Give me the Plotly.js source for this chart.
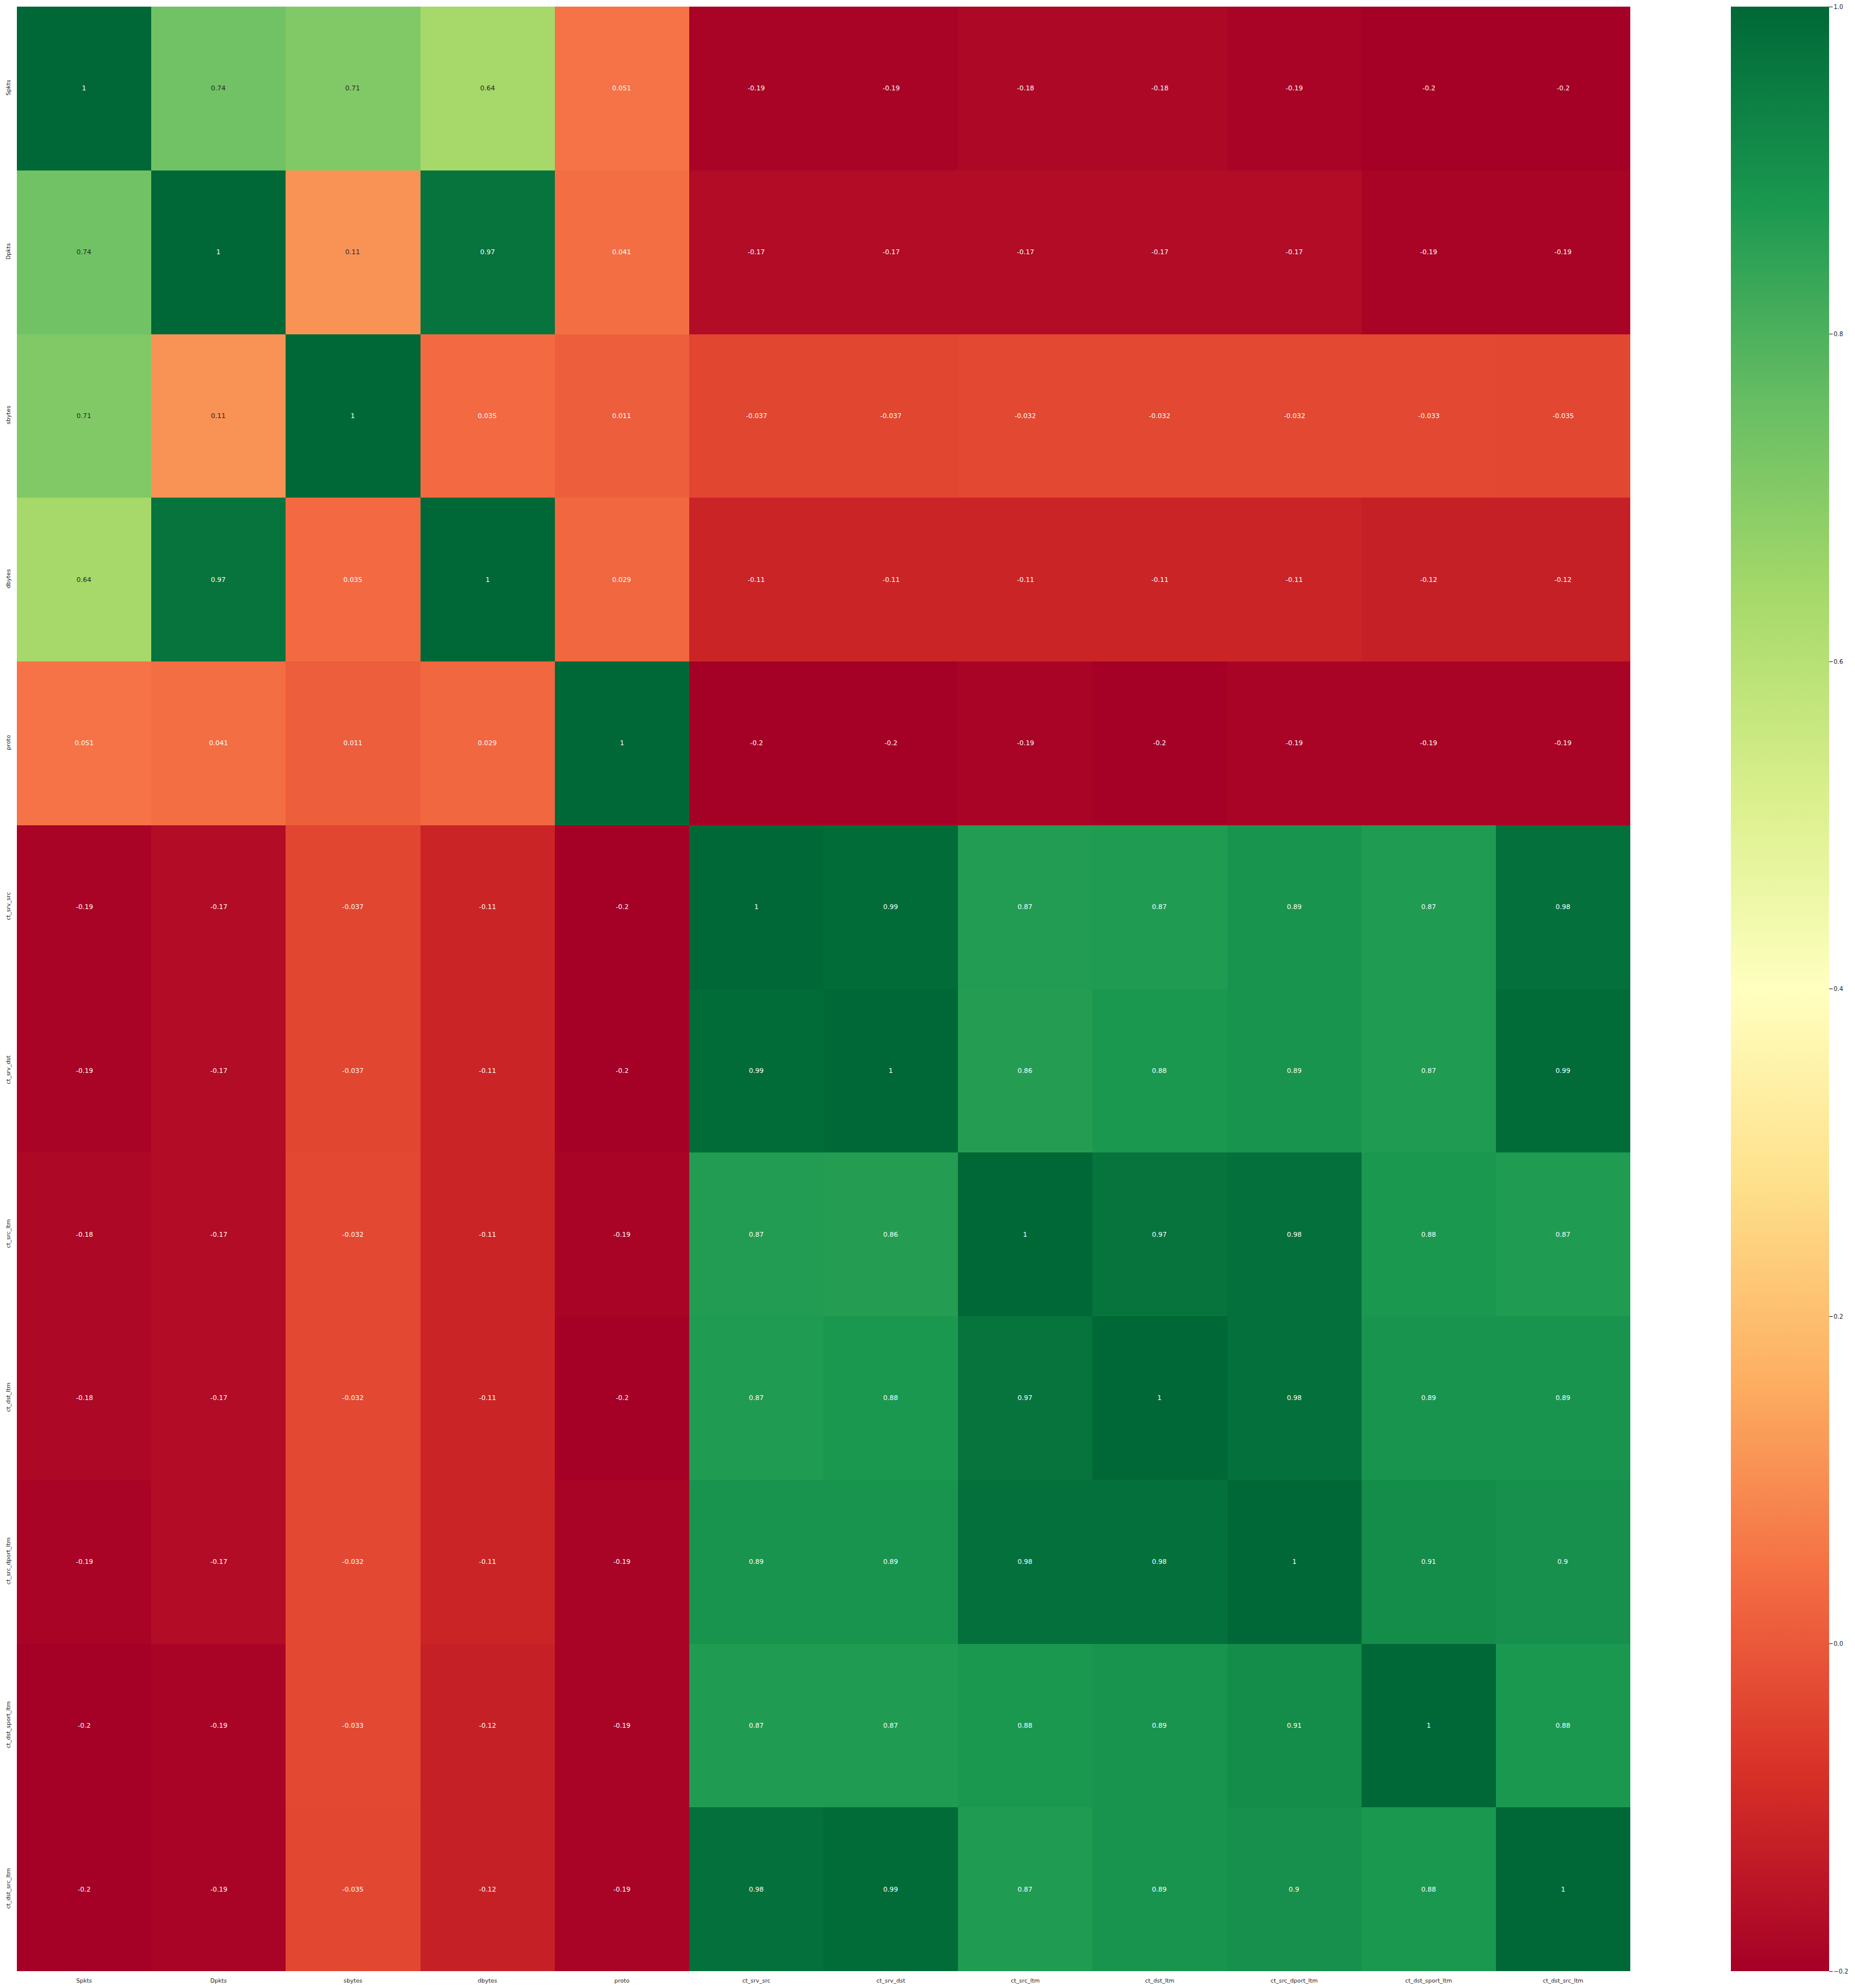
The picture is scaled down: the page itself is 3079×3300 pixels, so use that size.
<!DOCTYPE html>
<html>
<head>
<meta charset="utf-8">
<script src="https://cdn.plot.ly/plotly-3.0.1.min.js"></script>
<style>html,body{margin:0;padding:0;background:#fff;}#chart{width:3079px;height:3300px;}</style>
</head>
<body>
<div id="chart"></div>
<script>
const features = ["Spkts","Dpkts","sbytes","dbytes","proto","ct_srv_src","ct_srv_dst","ct_src_ltm","ct_dst_ltm","ct_src_dport_ltm","ct_dst_sport_ltm","ct_dst_src_ltm"];

const rowSpkts          = [1, 0.74, 0.71, 0.64, 0.051, -0.19, -0.19, -0.18, -0.18, -0.19, -0.2, -0.2];
const rowDpkts          = [0.74, 1, 0.11, 0.97, 0.041, -0.17, -0.17, -0.17, -0.17, -0.17, -0.19, -0.19];
const rowSbytes         = [0.71, 0.11, 1, 0.035, 0.011, -0.037, -0.037, -0.032, -0.032, -0.032, -0.033, -0.035];
const rowDbytes         = [0.64, 0.97, 0.035, 1, 0.029, -0.11, -0.11, -0.11, -0.11, -0.11, -0.12, -0.12];
const rowProto          = [0.051, 0.041, 0.011, 0.029, 1, -0.2, -0.2, -0.19, -0.2, -0.19, -0.19, -0.19];
const rowCtSrvSrc       = [-0.19, -0.17, -0.037, -0.11, -0.2, 1, 0.99, 0.868, 0.87, 0.89, 0.87, 0.98];
const rowCtSrvDst       = [-0.19, -0.17, -0.037, -0.11, -0.2, 0.99, 1, 0.8649, 0.88, 0.89, 0.87, 0.99];
const rowCtSrcLtm       = [-0.18, -0.17, -0.032, -0.11, -0.19, 0.868, 0.8649, 1, 0.97, 0.98, 0.88, 0.87];
const rowCtDstLtm       = [-0.18, -0.17, -0.032, -0.11, -0.2, 0.87, 0.88, 0.97, 1, 0.98, 0.89, 0.89];
const rowCtSrcDportLtm  = [-0.19, -0.17, -0.032, -0.11, -0.19, 0.89, 0.89, 0.98, 0.98, 1, 0.91, 0.9];
const rowCtDstSportLtm  = [-0.2, -0.19, -0.033, -0.12, -0.19, 0.87, 0.87, 0.88, 0.89, 0.91, 1, 0.88];
const rowCtDstSrcLtm    = [-0.2, -0.19, -0.035, -0.12, -0.19, 0.98, 0.99, 0.87, 0.89, 0.9, 0.88, 1];

const corr = [rowSpkts,rowDpkts,rowSbytes,rowDbytes,rowProto,rowCtSrvSrc,rowCtSrvDst,rowCtSrcLtm,rowCtDstLtm,rowCtSrcDportLtm,rowCtDstSportLtm,rowCtDstSrcLtm];

const cbTickVals = [-0.2, 0.0, 0.2, 0.4, 0.6, 0.8, 1.0];
const cbTickText = ["\u22120.2","0.0","0.2","0.4","0.6","0.8","1.0"];

const zmin = -0.2, zmax = 1.0;
const rdylgn = ["#a50026","#d73027","#f46d43","#fdae61","#fee08b","#ffffbf","#d9ef8b","#a6d96a","#66bd63","#1a9850","#006837"];
const colorscale = rdylgn.map((c,i)=>[i/(rdylgn.length-1), c]);

function hexToRgb(h){return [parseInt(h.slice(1,3),16),parseInt(h.slice(3,5),16),parseInt(h.slice(5,7),16)];}
function colorAt(v){
  let t = (v - zmin)/(zmax - zmin); t = Math.max(0, Math.min(1, t));
  const n = rdylgn.length - 1; const p = t*n; const i = Math.min(n-1, Math.floor(p)); const f = p - i;
  const a = hexToRgb(rdylgn[i]), b = hexToRgb(rdylgn[i+1]);
  return a.map((x,k)=>x + (b[k]-x)*f);
}
function lum(rgb){
  const l = rgb.map(c=>{c/=255; return c<=0.03928 ? c/12.92 : Math.pow((c+0.055)/1.055,2.4);});
  return 0.2126*l[0]+0.7152*l[1]+0.0722*l[2];
}
function fmt2g(v){ return String(parseFloat(v.toPrecision(2))); }

const annotations = [];
corr.forEach((row,i)=>row.forEach((v,j)=>{
  annotations.push({
    x: features[j], y: features[i], xref:'x', yref:'y', text: fmt2g(v), showarrow:false,
    font:{family:'DejaVu Sans', size:11, color: lum(colorAt(v)) > 0.408 ? '#262626' : '#ffffff'}
  });
}));

const trace = {
  type:'heatmap', z: corr, x: features, y: features,
  colorscale: colorscale, zmin: zmin, zmax: zmax, xgap:0, ygap:0,
  colorbar: {
    x: 1.0624, xanchor:'left', xref:'paper', y:0.5, yanchor:'middle', len:1, lenmode:'fraction',
    thickness:163, thicknessmode:'pixels', outlinewidth:0, ypad:0, xpad:0,
    tickmode:'array', tickvals: cbTickVals, ticktext: cbTickText,
    ticks:'outside', ticklen:6, tickwidth:1, tickcolor:'#262626',
    tickfont:{family:'DejaVu Sans', size:10, color:'#262626'}
  },
  hoverinfo:'skip'
};

const layout = {
  width:3079, height:3300,
  margin:{l:28, r:373, t:11, b:28, pad:0},
  paper_bgcolor:'#ffffff', plot_bgcolor:'#ffffff',
  xaxis:{type:'category', showgrid:false, zeroline:false, showline:false, ticks:'', ticklabelstandoff:8,
         tickfont:{family:'DejaVu Sans', size:9.5, color:'#262626'}, tickangle:0},
  yaxis:{type:'category', autorange:'reversed', showgrid:false, zeroline:false, showline:false, ticks:'', ticklabelstandoff:8,
         tickfont:{family:'DejaVu Sans', size:9.5, color:'#262626'}, tickangle:-90},
  annotations: annotations,
  showlegend:false
};

Plotly.newPlot('chart',[trace],layout,{displayModeBar:false, staticPlot:true});
</script>
</body>
</html>
